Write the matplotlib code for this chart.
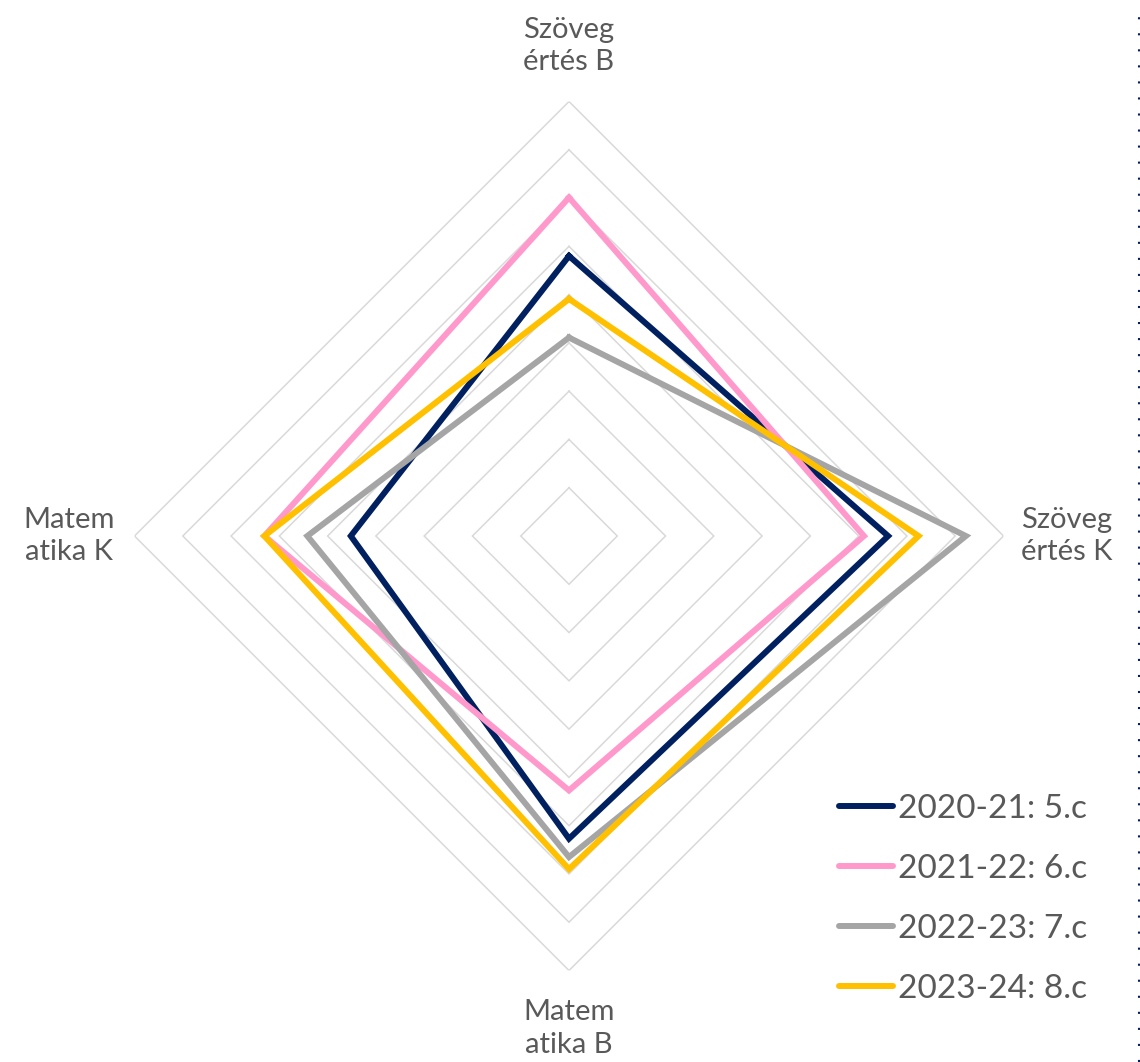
import numpy as np
import matplotlib
matplotlib.use("Agg")
import matplotlib.pyplot as plt
from matplotlib.lines import Line2D

# axes, clockwise from the top
categories = ["Szöveg\nértés B", "Szöveg\nértés K", "Matem\natika B", "Matem\natika K"]
series_names = ["2020-21: 5.c", "2021-22: 6.c", "2022-23: 7.c", "2023-24: 8.c"]
colors = ["#002060", "#FF99CC", "#A5A5A5", "#FFC000"]

# values (grid step = 1, outer ring = 9)
v_2020 = [5.80, 6.61, 6.27, 4.52]
v_2021 = [7.01, 6.11, 5.27, 6.31]
v_2022 = [4.11, 8.22, 6.65, 5.42]
v_2023 = [4.91, 7.24, 6.90, 6.31]
values = [v_2020, v_2021, v_2022, v_2023]

rings = [1, 2, 3, 4, 5, 6, 7, 8, 9]
r_max = 9

plt.rcParams['font.family'] = ['Lato', 'DejaVu Sans']

fig = plt.figure(figsize=(11.4, 10.62), dpi=100)
cx, cy, rad = 569 / 1140, 526 / 1062, 434.5
ax = fig.add_axes([cx - rad / 1140, cy - rad / 1062, 2 * rad / 1140, 2 * rad / 1062],
                  projection='polar')
ax.set_theta_offset(np.pi / 2)
ax.set_theta_direction(-1)
ax.set_ylim(0, r_max)
ax.grid(False)
ax.spines['polar'].set_visible(False)
ax.set_xticks([])
ax.set_yticks([])
ax.patch.set_alpha(0)

angles = np.linspace(0, 2 * np.pi, len(categories), endpoint=False)
closed = np.append(angles, angles[0])

# diamond grid
for r in rings:
    ax.plot(closed, [r] * len(closed), color="#D9D9D9", lw=1.1, zorder=1,
            solid_joinstyle='miter')

for name, vals, c in zip(series_names, values, colors):
    ax.plot(closed, vals + vals[:1], color=c, lw=4.3, label=name, zorder=3,
            solid_joinstyle='miter', clip_on=False)

label_r = [10.15, 10.3, 10.2, 10.35]
for a, lab, r in zip(angles, categories, label_r):
    ax.text(a, r, lab, ha='center', va='center', multialignment='center',
            fontsize=21, color="#595959", linespacing=1.32)

handles = [Line2D([0], [0], color=c, lw=4.3, solid_capstyle='round') for c in colors]
fig.legend(handles, series_names, loc='center left',
           bbox_to_anchor=(839 / 1140, 1 - 899 / 1062), frameon=False,
           fontsize=24, labelcolor="#595959", handlelength=1.62,
           handletextpad=0.15, labelspacing=0.9, borderpad=0, borderaxespad=0)

# dotted frame edge on the right
fig.add_artist(Line2D([1138.5 / 1140, 1138.5 / 1140], [0, 1 - 15 / 1062],
                      color="#002060", lw=1.5, linestyle=(0, (1, 6.7))))

fig.savefig("out.png", dpi=100)
